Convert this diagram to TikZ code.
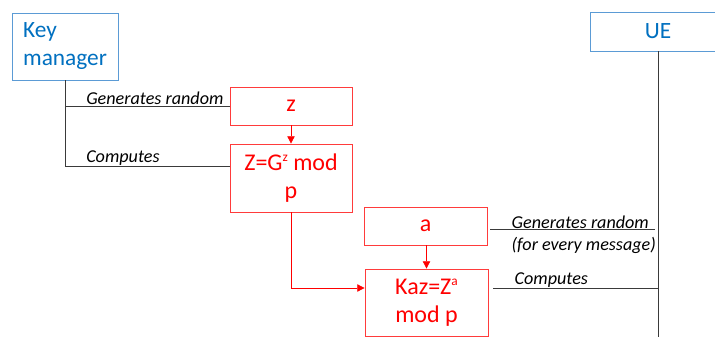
\documentclass[tikz,border=0pt]{standalone}
\usepackage{fontspec}
\setmainfont{Carlito}
\usetikzlibrary{calc,arrows.meta}
\definecolor{PartyBlue}{HTML}{0070C0}
\definecolor{PartyLine}{HTML}{5B9BD5}
\definecolor{StepRed}{HTML}{FF0000}
\definecolor{StepLine}{HTML}{FF3B3B}
\definecolor{WireGray}{HTML}{3A3A3A}
\newcommand{\powr}[1]{\raisebox{6.6pt}{\fontsize{10}{10}\selectfont #1}}
\tikzset{
  partybox/.style={draw=PartyLine, text=PartyBlue, line width=0.6pt,
    inner sep=2pt, font=\fontsize{17.5}{21}\selectfont},
  stepbox/.style={draw=StepLine, text=StepRed, line width=0.6pt,
    align=center, inner sep=2pt, font=\fontsize{18}{21}\selectfont},
  wire/.style={draw=WireGray, line width=0.6pt},
  flow/.style={draw=StepRed, line width=0.6pt,
    -{Triangle[length=5.5pt,width=5.5pt]}},
  note/.style={font=\fontsize{13.6}{16}\selectfont\itshape, inner sep=0pt,
    anchor=base west}
}

\begin{document}
\begin{tikzpicture}[x=0.75pt,y=-0.75pt]
  \useasboundingbox (0,0) rectangle (715,337);
  \fill[white] (0,0) rectangle (715,337);

  % parties
  \node[partybox, align=left, minimum width=79.5pt, minimum height=50.25pt]
    (km) at (65,46.5) {Key\\manager};
  \node[partybox, minimum width=102pt, minimum height=29.25pt]
    (ue) at (658,31.5) {UE};

  % steps
  \node[stepbox, minimum width=91.5pt, minimum height=28.5pt]
    (z) at (291,106) {z};
  \node[stepbox, minimum width=91.5pt, minimum height=51pt]
    (Zmod) at (291,178) {Z=G\powr{z} mod\\p};
  \node[stepbox, minimum width=92.25pt, minimum height=28.5pt]
    (a) at (425.5,226) {a};
  \node[stepbox, minimum width=92.25pt, minimum height=50.25pt]
    (Kaz) at (426.5,302.5) {Kaz=Z\powr{a}\\mod p};

  % lifelines
  \coordinate (kmend) at (65,166);
  \coordinate (uebot) at (658,337);
  \coordinate (kazin) at ($(Kaz.west)+(0,-14.5)$);
  \draw[wire] (km.south) -- (kmend);
  \draw[wire] (ue.south) -- (uebot);

  % key manager side
  \draw[wire] (km.south |- z.west) -- (z.west);
  \draw[wire] (kmend) -- (kmend -| Zmod.west);
  \node[note] (genz) at ($(km.south |- z.west)+(21,-2)$) {Generates random};
  \node[note] (compz) at ($(kmend)+(21,-4)$) {Computes};

  % UE side
  \draw[wire] ($(a.east)+(3,3.5)$) -- ($(a.east -| uebot)+(-3,3.5)$);
  \draw[wire] ($(kazin -| Kaz.east)+(5,0)$) -- (kazin -| uebot);
  \node[note] (gena) at ($(a.east)+(24,2)$) {Generates random};
  \node[note] (every) at ($(a.east)+(24,24)$) {(for every message)};
  \node[note] (compa) at ($(kazin -| Kaz.east)+(26,-4)$) {Computes};

  % flow
  \draw[flow] (z.south) -- (Zmod.north);
  \draw[flow] (Zmod.south) |- (kazin);
  \draw[flow] (a.south -| Kaz.north) -- (Kaz.north);
\end{tikzpicture}
\end{document}
